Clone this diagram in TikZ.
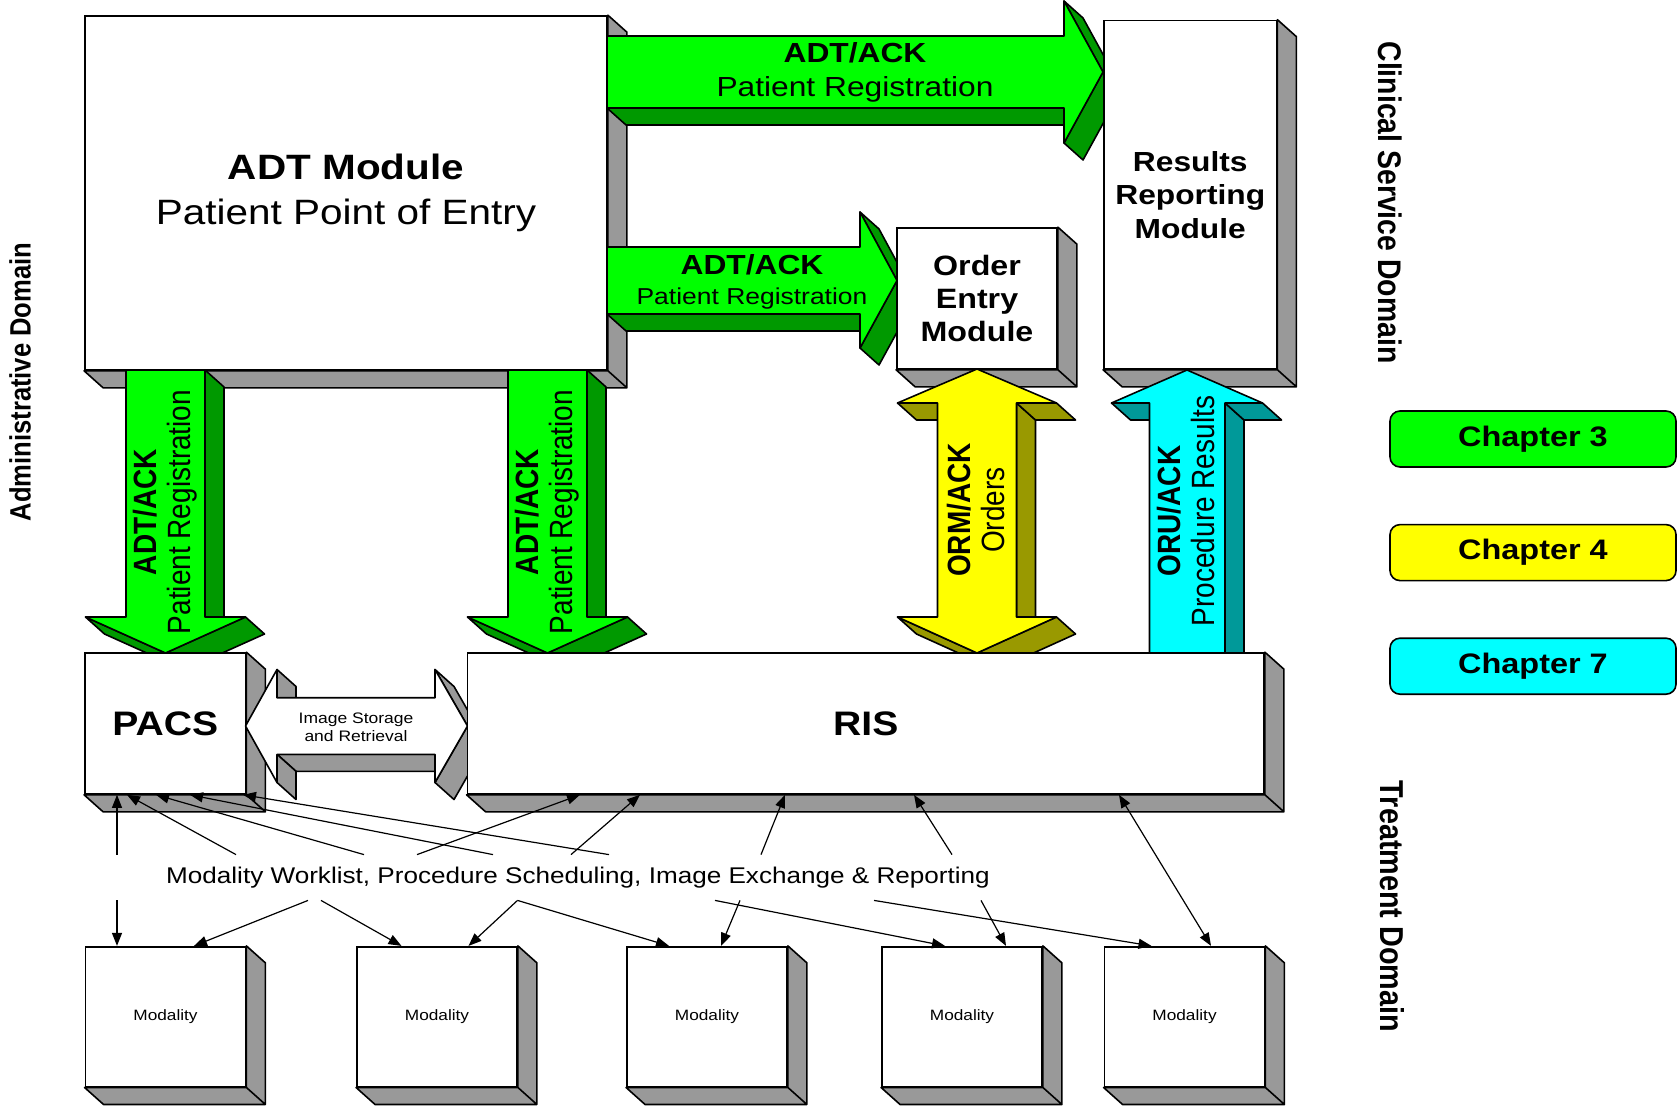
\documentclass[tikz,border=0pt]{standalone}
\usepackage{fontspec}
\setmainfont{Liberation Sans}
\usetikzlibrary{arrows.meta,positioning,calc}
\definecolor{grn}{RGB}{0,255,0}
\definecolor{grndark}{RGB}{0,153,0}
\definecolor{ylw}{RGB}{255,255,0}
\definecolor{ylwdark}{RGB}{153,153,0}
\definecolor{cyn}{RGB}{0,255,255}
\definecolor{cyndark}{RGB}{0,153,153}
\definecolor{boxgrey}{RGB}{153,153,153}
\tikzset{
  lbl/.style={xscale=1.15, align=center, inner sep=0pt},
  dims/.style 2 args={minimum width={#1*0.5pt/1.15}, minimum height={#2*0.5pt}},
  box/.style={lbl, draw, fill=white, line width=0.8pt},
  face/.style={draw, line width=0.8pt, line join=round},
  chap/.style={lbl, draw, line width=0.8pt, rounded corners=5pt, dims={286}{56},
    font=\bfseries\fontsize{14.1}{17}\selectfont},
  wire/.style={-{Triangle[length=6.5pt,width=5pt]}, line width=0.6pt},
  wires/.style={{Triangle[length=6.5pt,width=5pt]}-{Triangle[length=6.5pt,width=5pt]}, line width=0.6pt},
}
\newcommand{\boxshade}[1]{%
  \draw[face, fill=boxgrey] (#1.north east) -- ++(19,17) -- ([shift={(19,17)}]#1.south east)
    -- ([shift={(19,17)}]#1.south west) -- (#1.south west) -- (#1.south east) -- cycle
    (#1.south east) -- ++(19,17);}
\begin{document}
\begin{tikzpicture}[x=0.5pt, y=-0.5pt]
\useasboundingbox (0,0) rectangle (1679,1107);

\node[box, dims={522}{354}, font=\fontsize{17.6}{22.5}\selectfont] (adt) at (346,193)
  {\textbf{ADT Module}\\Patient Point of Entry};
\boxshade{adt}

\draw[face, fill=grndark] (607,108) -- (1064,108) -- (1083,125) -- (626,125) -- cycle;
\draw[face, fill=grndark] (1064,1) -- (1103,72) -- (1122,89) -- (1083,18) -- cycle
  (1103,72) -- (1064,143) -- (1083,160) -- (1122,89) -- cycle;
\draw[face, fill=grn] (607,36) -- (1064,36) -- (1064,1) -- (1103,72) -- (1064,143)
  -- (1064,108) -- (607,108) -- cycle;
\node[lbl, font=\fontsize{13.8}{16.7}\selectfont] (adt-res) at (855,72.5)
  {\textbf{ADT/ACK}\\Patient Registration};

\node[box, dims={172.5}{348.5}, font=\bfseries\fontsize{13.8}{16.7}\selectfont] (res)
  at (1190.25,194.75) {Results\\Reporting\\Module};
\boxshade{res}

\draw[face, fill=grndark] (607,314) -- (860,314) -- (879,331) -- (626,331) -- cycle;
\draw[face, fill=grndark] (860,212) -- (897,280.5) -- (916,297.5) -- (879,229) -- cycle
  (897,280.5) -- (860,348) -- (879,365) -- (916,297.5) -- cycle;
\draw[face, fill=grn] (607,247) -- (860,247) -- (860,212) -- (897,280.5) -- (860,348)
  -- (860,314) -- (607,314) -- cycle;
\node[lbl, font=\fontsize{13.8}{15}\selectfont] (adt-ord) at (752,282)
  {\textbf{ADT/ACK}\\{\fontsize{11.5}{15}\selectfont Patient Registration}};

\node[box, dims={160}{141}, font=\bfseries\fontsize{14}{16.7}\selectfont] (ord)
  at (977,298.5) {Order\\Entry\\Module};
\boxshade{ord}

% down to PACS and RIS
\draw[face, fill=grndark] (205,370) -- (224,387) -- (224,634) -- (205,617) -- cycle;
\draw[face, fill=grndark] (245.5,617) -- (165.5,653) -- (184.5,670) -- (264.5,634) -- cycle
  (165.5,653) -- (85.5,617) -- (104.5,634) -- (184.5,670) -- cycle;
\draw[face, fill=grn] (126,370) -- (205,370) -- (205,617) -- (245.5,617) -- (165.5,653)
  -- (85.5,617) -- (126,617) -- cycle;
\node[lbl, rotate=90, font=\fontsize{14}{14.8}\selectfont] (adt-pacs) at (165.5,512)
  {\textbf{ADT/ACK}\\Patient Registration};
\draw[face, fill=grndark] (587,370) -- (606,387) -- (606,634) -- (587,617) -- cycle;
\draw[face, fill=grndark] (627.5,617) -- (547.5,653) -- (566.5,670) -- (646.5,634) -- cycle
  (547.5,653) -- (467.5,617) -- (486.5,634) -- (566.5,670) -- cycle;
\draw[face, fill=grn] (508,370) -- (587,370) -- (587,617) -- (627.5,617) -- (547.5,653)
  -- (467.5,617) -- (508,617) -- cycle;
\node[lbl, rotate=90, font=\fontsize{14}{14.8}\selectfont] (adt-ris) at (547.5,512)
  {\textbf{ADT/ACK}\\Patient Registration};

\draw[face, fill=ylwdark] (1016.5,403) -- (1035.5,420) -- (1035.5,634) -- (1016.5,617) -- cycle;
\draw[face, fill=ylwdark] (897.5,403) -- (937.5,403) -- (956.5,420) -- (916.5,420) -- cycle
  (1016.5,403) -- (1056.5,403) -- (1075.5,420) -- (1035.5,420) -- cycle
  (1056.5,617) -- (977,653) -- (996,670) -- (1075.5,634) -- cycle
  (977,653) -- (897.5,617) -- (916.5,634) -- (996,670) -- cycle;
\draw[face, fill=ylw] (977,369) -- (1056.5,403) -- (1016.5,403) -- (1016.5,617) -- (1056.5,617)
  -- (977,653) -- (897.5,617) -- (937.5,617) -- (937.5,403) -- (897.5,403) -- cycle;
\node[lbl, rotate=90, font=\fontsize{14}{14.8}\selectfont] (orm) at (976,510)
  {\textbf{ORM/ACK}\\Orders};

\node[box, dims={160.5}{141}, font=\bfseries\fontsize{17}{20}\selectfont] (pacs)
  at (165.25,723.5) {PACS};
\boxshade{pacs}

\draw[face, fill=boxgrey] (277,754.3) -- (435,754.3) -- (454,771.3) -- (296,771.3) -- cycle;
\draw[face, fill=boxgrey] (277,669.5) -- (296,686.5) -- (296,714.7) -- (277,697.7) -- cycle
  (435,669.5) -- (467.5,726) -- (486.5,743) -- (454,686.5) -- cycle
  (467.5,726) -- (435,782.5) -- (454,799.5) -- (486.5,743) -- cycle
  (277,754.3) -- (277,782.5) -- (296,799.5) -- (296,771.3) -- cycle;
\draw[face, fill=white] (245.5,726) -- (277,669.5) -- (277,697.7) -- (435,697.7) -- (435,669.5)
  -- (467.5,726) -- (435,782.5) -- (435,754.3) -- (277,754.3) -- (277,782.5) -- cycle;
\node[lbl, font=\fontsize{7.6}{9.2}\selectfont] (img) at (356,727)
  {Image Storage\\and Retrieval};

\node[box, dims={796.5}{141}, font=\bfseries\fontsize{17}{20}\selectfont] (ris)
  at (865.75,723.5) {RIS};
\boxshade{ris}

\draw[face, fill=cyndark] (1225,403) -- (1244,420) -- (1244,653) -- (1225,653) -- cycle;
\draw[face, fill=cyndark] (1111.5,403) -- (1149.5,403) -- (1168.5,420) -- (1130.5,420) -- cycle
  (1225,403) -- (1262.5,403) -- (1281.5,420) -- (1244,420) -- cycle;
\draw[face, fill=cyn] (1187,370) -- (1262.5,403) -- (1225,403) -- (1225,653) -- (1149.5,653)
  -- (1149.5,403) -- (1111.5,403) -- cycle;
\node[lbl, rotate=90, font=\fontsize{14}{14.8}\selectfont] (oru) at (1186,511)
  {\textbf{ORU/ACK}\\Procedure Results};

\foreach \n/\x in {1/165.5, 2/437, 3/707, 4/962, 5/1184.5} {
  \node[box, dims={160}{140}, font=\fontsize{7.5}{9}\selectfont] (m\n) at (\x,1016.7) {Modality};
  \boxshade{m\n}
}

\node[lbl, minimum height=22.5pt, font=\fontsize{11.35}{13}\selectfont] (wl) at (578,877.5)
  {Modality Worklist, Procedure Scheduling, Image Exchange \& Reporting};

\path[wire]
  (wl.north -| 117,0) edge (pacs.south -| 117,0)
  (wl.north -| 236,0) edge (pacs.south -| 127,0)
  (wl.north -| 364,0) edge (pacs.south -| 156,0)
  (wl.north -| 493,0) edge (pacs.south -| 190,0)
  (wl.north -| 609,0) edge (pacs.south -| 243,0)
  (wl.north -| 417,0) edge (ris.south -| 580,0)
  (wl.north -| 571,0) edge (ris.south -| 640,0)
  (wl.north -| 761,0) edge (ris.south -| 785,0)
  (wl.north -| 952,0) edge (ris.south -| 914,0)
  (wl.south -| 117,0) edge (m1.north -| 117,0)
  (wl.south -| 308,0) edge (m1.north -| 194,0)
  (wl.south -| 321,0) edge (m2.north -| 401.5,0)
  (wl.south -| 517.5,0) edge (m2.north -| 468.5,0)
  (wl.south -| 517.5,0) edge (m3.north -| 669,0)
  (wl.south -| 740,0) edge (m3.north -| 721,0)
  (wl.south -| 715,0) edge (m4.north -| 945,0)
  (wl.south -| 981,0) edge (m4.north -| 1006,0)
  (wl.south -| 874,0) edge (m5.north -| 1151.5,0);
\draw[wires] (ris.south -| 1119,0) -- (m5.north -| 1211,0);

\node[chap, fill=grn] (ch3) at (1533,439) {Chapter 3};
\node[chap, fill=ylw, below=28pt of ch3] (ch4) {Chapter 4};
\node[chap, fill=cyn, below=28pt of ch4] (ch7) {Chapter 7};

\node[lbl, rotate=90, font=\bfseries\fontsize{12.8}{15}\selectfont] (admin) at (20,382)
  {Administrative Domain};
\node[lbl, rotate=-90, font=\bfseries\fontsize{14.2}{17}\selectfont] (clin) at (1390,202.5)
  {Clinical Service Domain};
\node[lbl, rotate=-90, font=\bfseries\fontsize{14.4}{17}\selectfont] (treat) at (1392,906.5)
  {Treatment Domain};
\end{tikzpicture}
\end{document}
